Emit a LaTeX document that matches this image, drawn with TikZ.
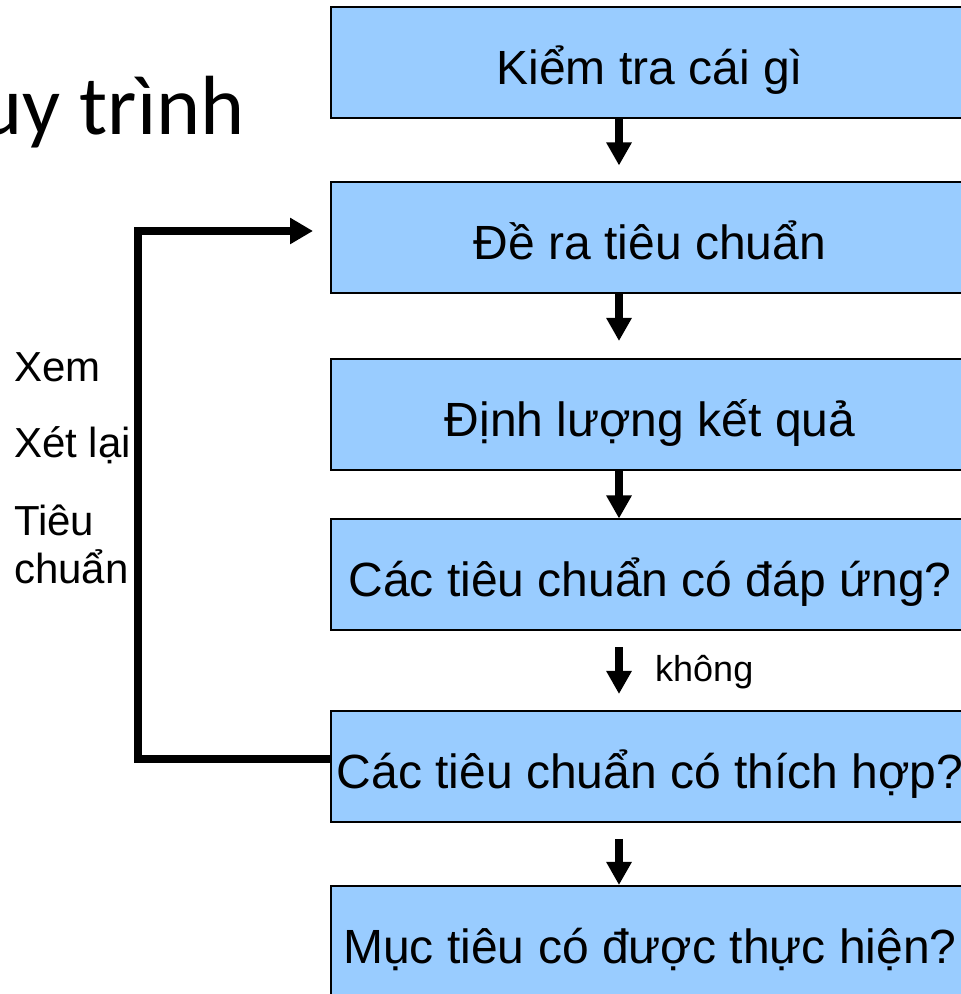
\documentclass[tikz,border=0pt]{standalone}
\usepackage{fontspec}
\setmainfont{Liberation Sans}
\newfontfamily\titlefont{Carlito}
\usetikzlibrary{arrows.meta,calc}
\definecolor{boxblue}{HTML}{99CCFF}
\begin{document}
\begin{tikzpicture}[
  box/.style={draw=black, line width=2pt, fill=boxblue, minimum width=638pt,
    minimum height=111pt, inner xsep=0pt, text height=52pt, text depth=8pt,
    font=\fontsize{48}{58}\selectfont},
  downarrow/.style={line width=8pt, -{Triangle[width=24pt,length=23pt]}},
  backarrow/.style={line width=8pt, -{Triangle[width=25pt,length=23pt]}},
  sidetext/.style={font=\fontsize{42}{48}\selectfont, anchor=base west, inner sep=0pt},
]
\useasboundingbox (0,0) rectangle (961pt,994pt);
\clip (0,0) rectangle (961pt,994pt);

\node[anchor=base east, font=\titlefont\fontsize{84}{100}\selectfont, inner sep=0pt]
  (title) at (245pt,859pt) {Quy trình};

\node[box] (b1) at (650pt,931.5pt) {Kiểm tra cái gì};
\node[box] (b2) at (650pt,756pt) {Đề ra tiêu chuẩn};
\node[box] (b3) at (650pt,579.5pt) {Định lượng kết quả};
\node[box] (b4) at (650pt,419pt) {Các tiêu chuẩn có đáp ứng?};
\node[box] (b5) at (650pt,227.5pt) {Các tiêu chuẩn có thích hợp?};
\node[box] (b6) at (650pt,52.5pt) {Mục tiêu có được thực hiện?};

\draw[downarrow] ($(b1.south)+(-31pt,0)$) -- ($(b2.north)+(-31pt,16pt)$);
\draw[downarrow] ($(b2.south)+(-31pt,0)$) -- ($(b3.north)+(-31pt,17pt)$);
\draw[downarrow] ($(b3.south)+(-31pt,0)$) -- ($(b4.north)+(-31pt,0)$);
\draw[downarrow] ($(b4.south)+(-31pt,-16pt)$) -- ($(b5.north)+(-31pt,16pt)$);
\draw[downarrow] ($(b5.south)+(-31pt,-16pt)$) -- ($(b6.north)+(-31pt,0)$);

\node[font=\fontsize{36}{42}\selectfont, anchor=base west, inner sep=0pt]
  (khong) at (655pt,312pt) {không};

\draw[backarrow] ($(b5.west)+(0,7.5pt)$) -| ($(b2.west)+(-192pt,7pt)$)
  -- ($(b2.west)+(-17pt,7pt)$);

\node[sidetext] (xem) at (14pt,612pt) {Xem};
\node[sidetext] (xetlai) at (14pt,536pt) {Xét lại};
\node[sidetext] (tieu) at (14pt,458pt) {Tiêu};
\node[sidetext] (chuan) at (14pt,410pt) {chuẩn};
\end{tikzpicture}
\end{document}
